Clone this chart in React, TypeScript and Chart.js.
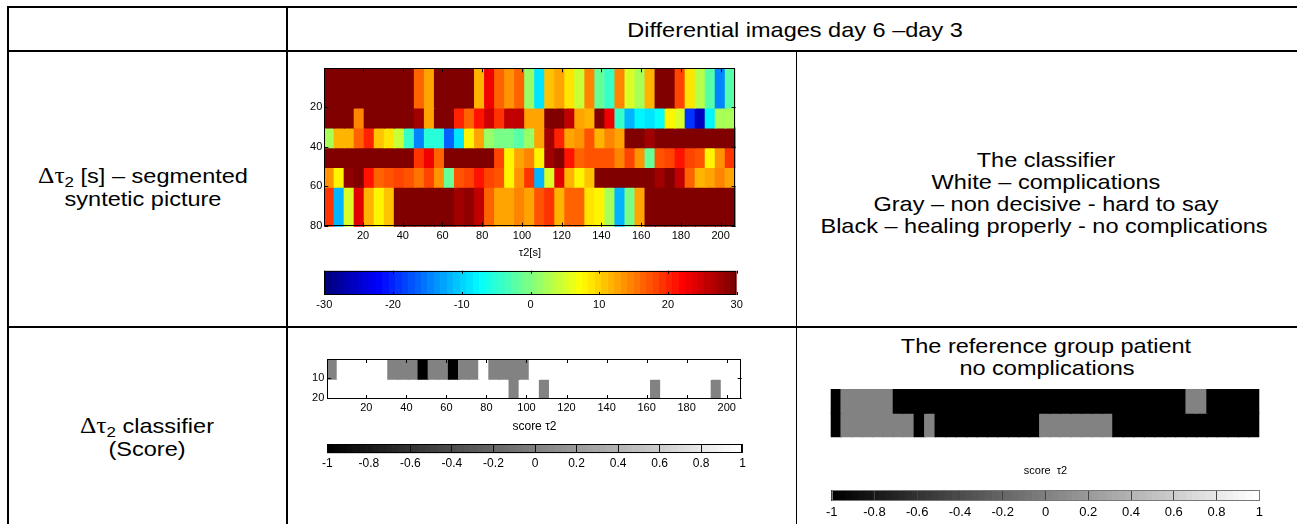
import React, { useEffect, useRef } from "react";
import { Chart, registerables } from "chart.js";

Chart.register(...registerables);

// ---------------- data ----------------
// Δτ2 segmented synthetic picture (jet colour scale, -30 .. 30), 6 row bands × 41 columns
const TAU_X_RANGE = [0.5, 207.5];
const TAU_X_TICKS = [20, 40, 60, 80, 100, 120, 140, 160, 180, 200];
const TAU_Y_RANGE = [0.5, 80.5];
const TAU_Y_TICKS = [20, 40, 60, 80];
const TAU_ROW_EDGES = [0.5, 20.5, 30.5, 40.5, 50.5, 60.5, 80.5];
const TAU_ROW_1 = [30, 30, 30, 30, 30, 30, 30, 30, 30, 16.6, 12.8, 30, 30, 30, 30, 11.3, 22.5, 16, 13.7, 16.6, 1.3, -8.8, 10.7, 13.1, 9, 4.3, 14.3, -1.6, -4.5, 14.9, 5.4, 1.9, 11.3, 30, 30, 18.4, 9, 3.2, -2.8, -14.9, -2.8];
const TAU_ROW_2 = [30, 30, 30, 14.9, 30, 30, 30, 30, 30, 28.1, 12.5, 30, 30, 20.1, 16.6, 21.3, 25.2, 19, 25.8, 25.8, 13.1, 13.1, 30, 30, 25.8, 13.1, 11.9, 30, 22.5, -4, -11.3, -8.4, -9, -7.5, 7.5, 5.4, -19, -25.8, -8.4, 1.9, 1.9];
const TAU_ROW_3 = [1.9, 11.3, 11.3, 16.6, 20.1, 10.7, 9, 4.3, -4, -14.3, -5.2, -5.2, -16.6, -9, 7.5, 13.1, 1.3, -0.4, -0.4, -2.2, 1.3, 13.1, 27.5, 20.1, 13.1, 13.7, 17.2, 11.9, 14.3, 12.5, 30, 30, 28.1, 30, 30, 30, 30, 30, 30, 30, 30];
const TAU_ROW_4 = [30, 30, 30, 30, 30, 30, 30, 30, 30, 19.6, 22.5, 16.6, 30, 30, 30, 30, 30, 18.4, 7.5, 13.1, 14.3, 7.8, 28.1, 30, 21.3, 16, 17.2, 17.8, 17.8, 14.9, 18.4, 13.7, -1.6, 17.2, 18.4, 21.3, 18.4, 17.2, 8.4, 13.7, 19];
const TAU_ROW_5 = [13.7, 7.5, 28.8, 30, 20.7, 16, 17.2, 18.4, 17.2, 15.4, 18.4, 13.7, -1.6, 17.2, 18.4, 21.3, 18.4, 17.2, 7.5, 13.7, 19, -11.9, 5.4, 24, 11.3, 7.5, 10.7, 30, 30, 30, 30, 30, 30, 28.1, 29.4, 25.8, 16, 11.9, 13.1, 14.9, 13.1];
const TAU_ROW_6 = [19.6, -11.3, 5.4, 24, 11.3, 7.8, 10.7, 30, 30, 30, 30, 30, 30, 28.1, 28.8, 25.8, 16.6, 12.5, 13.1, 14.9, 12.5, 17.2, 19, 11.9, 16.6, 16.6, 9, 7.5, 2.7, -11.3, -0.5, 13.1, 29.4, 30, 30, 30, 30, 30, 30, 30, 30];
const JET_RANGE = [-30, 30];
const JET_TICKS = [-30, -20, -10, 0, 10, 20, 30];
const JET_TICK_LABELS = ["-30", "-20", "-10", "0", "10", "20", "30"];

// Δτ2 classifier score (-1 black, 0 gray, 1 white)
const SCORE_Y_RANGE = [0.5, 20.5];
const SCORE_Y_TICKS = [10, 20];
const SCORE_ROW_EDGES = [0.5, 10.5, 20.5];
const SCORE_ROW_1 = [0, 1, 1, 1, 1, 1, 0, 0, 0, -1, 0, 0, -1, 0, 0, 1, 0, 0, 0, 0, 1, 1, 1, 1, 1, 1, 1, 1, 1, 1, 1, 1, 1, 1, 1, 1, 1, 1, 1, 1, 1];
const SCORE_ROW_2 = [1, 1, 1, 1, 1, 1, 1, 1, 1, 1, 1, 1, 1, 1, 1, 1, 1, 1, 0, 1, 1, 0, 1, 1, 1, 1, 1, 1, 1, 1, 1, 1, 0, 1, 1, 1, 1, 1, 0, 1, 1];

// reference group patient – no complications
const REF_ROW_1 = [-1, 0, 0, 0, 0, 0, -1, -1, -1, -1, -1, -1, -1, -1, -1, -1, -1, -1, -1, -1, -1, -1, -1, -1, -1, -1, -1, -1, -1, -1, -1, -1, -1, -1, 0, 0, -1, -1, -1, -1, -1];
const REF_ROW_2 = [-1, 0, 0, 0, 0, 0, 0, 0, -1, 0, -1, -1, -1, -1, -1, -1, -1, -1, -1, -1, 0, 0, 0, 0, 0, 0, 0, -1, -1, -1, -1, -1, -1, -1, -1, -1, -1, -1, -1, -1, -1];

const GRAY_RANGE = [-1, 1];
const GRAY_TICKS = [-1, -0.8, -0.6, -0.4, -0.2, 0, 0.2, 0.4, 0.6, 0.8, 1];
const GRAY_TICK_LABELS = ["-1", "-0.8", "-0.6", "-0.4", "-0.2", "0", "0.2", "0.4", "0.6", "0.8", "1"];

// ---------------- colour maps ----------------
const LEVELS = 64;
const FONT = 'Arial, "Liberation Sans", Helvetica, sans-serif';

function levelOf(v: number, range: number[]) {
  const t = (v - range[0]) / (range[1] - range[0]);
  return Math.min(LEVELS - 1, Math.max(0, Math.floor(t * LEVELS))) / (LEVELS - 1);
}
function jetAt(t: number) {
  const c = (x: number) => Math.round(255 * Math.min(1, Math.max(0, x)));
  return `rgb(${c(1.5 - Math.abs(4 * t - 3))},${c(1.5 - Math.abs(4 * t - 2))},${c(1.5 - Math.abs(4 * t - 1))})`;
}
function grayAt(t: number) {
  const g = Math.round(255 * t);
  return `rgb(${g},${g},${g})`;
}
const jetOf = (v: number) => jetAt(levelOf(v, JET_RANGE));
const grayOf = (v: number) => grayAt(levelOf(v, GRAY_RANGE));

function stepGradient(chart: any, range: number[], colorAt: (t: number) => string) {
  const area = chart.chartArea;
  if (!area) return "transparent";
  const xs = chart.scales.x;
  const x0 = xs.getPixelForValue(range[0]);
  const x1 = xs.getPixelForValue(range[1]);
  const g = chart.ctx.createLinearGradient(x0, 0, x1, 0);
  for (let i = 0; i < LEVELS; i++) {
    const col = colorAt(i / (LEVELS - 1));
    g.addColorStop(i / LEVELS, col);
    g.addColorStop((i + 1) / LEVELS, col);
  }
  return g;
}

// MATLAB-like axes box with inward tick marks
const matlabBox = {
  id: "matlabBox",
  afterDraw(chart: any, _args: any, opts: any) {
    if (!opts || !opts.show) return;
    const { ctx, chartArea: a } = chart;
    ctx.save();
    ctx.lineWidth = 1;
    ctx.strokeStyle = opts.tickColor || "#000";
    ctx.beginPath();
    const len = opts.tickLength || 4;
    const xs = chart.scales.x;
    const ys = chart.scales.y;
    if (opts.xTicks) {
      for (const t of xs.ticks) {
        const p = Math.round(xs.getPixelForValue(t.value)) + 0.5;
        ctx.moveTo(p, a.top);
        ctx.lineTo(p, a.top + len);
        ctx.moveTo(p, a.bottom);
        ctx.lineTo(p, a.bottom - len);
      }
    }
    if (opts.yTicks) {
      for (const t of ys.ticks) {
        const p = Math.round(ys.getPixelForValue(t.value)) + 0.5;
        ctx.moveTo(a.left, p);
        ctx.lineTo(a.left + len, p);
        ctx.moveTo(a.right, p);
        ctx.lineTo(a.right - len, p);
      }
    }
    ctx.stroke();
    if (opts.border) {
      ctx.strokeStyle = opts.border;
      ctx.strokeRect(
        Math.round(a.left) + 0.5,
        Math.round(a.top) + 0.5,
        Math.round(a.right - a.left) - 1,
        Math.round(a.bottom - a.top) - 1
      );
    }
    ctx.restore();
  },
};

function colCenter(c: number, n: number, range: number[]) {
  return range[0] + ((c + 0.5) * (range[1] - range[0])) / n;
}

function heatmapConfig(p: any) {
  const datasets = p.rows.map((row: number[], r: number) => ({
    data: row.map((_v: number, c: number) => ({
      x: colCenter(c, row.length, p.xRange),
      y: [p.rowEdges[r], p.rowEdges[r + 1]],
    })),
    backgroundColor: row.map(p.colorOf),
    grouped: false,
    barPercentage: 1,
    categoryPercentage: 1,
    borderWidth: 0,
    inflateAmount: 0.7,
  }));
  return {
    type: "bar",
    data: { datasets },
    options: {
      animation: false,
      responsive: false,
      events: [],
      layout: { padding: p.padding },
      plugins: {
        legend: { display: false },
        tooltip: { enabled: false },
        matlabBox: p.box,
      },
      scales: {
        x: {
          type: "linear",
          display: p.showAxes,
          min: p.xRange[0],
          max: p.xRange[1],
          offset: false,
          grid: { display: false, drawTicks: false },
          border: { display: false },
          ticks: {
            autoSkip: false,
            maxRotation: 0,
            color: "#000",
            padding: p.xTickPadding,
            font: { family: FONT, size: 11 },
          },
          title: {
            display: !!p.xTitle,
            text: p.xTitle,
            color: "#000",
            font: { family: FONT, size: p.titleSize },
            padding: { top: 0, bottom: p.titlePadBottom },
          },
          afterBuildTicks: (s: any) => {
            s.ticks = (p.xTicks || []).map((v: number) => ({ value: v }));
          },
          afterFit: (s: any) => {
            s.height = p.xAxisHeight;
          },
        },
        y: {
          type: "linear",
          display: p.showAxes,
          reverse: true,
          min: p.yRange[0],
          max: p.yRange[1],
          grid: { display: false, drawTicks: false },
          border: { display: false },
          ticks: {
            autoSkip: false,
            color: "#000",
            padding: p.yTickPadding,
            font: { family: FONT, size: 11 },
          },
          afterBuildTicks: (s: any) => {
            s.ticks = (p.yTicks || []).map((v: number) => ({ value: v }));
          },
          afterFit: (s: any) => {
            s.width = p.yAxisWidth;
          },
        },
      },
    },
    plugins: [matlabBox],
  };
}

function colorbarConfig(p: any) {
  return {
    type: "bar",
    data: {
      labels: ["colorbar"],
      datasets: [
        {
          data: [p.range],
          backgroundColor: (ctx: any) => stepGradient(ctx.chart, p.range, p.colorAt),
          barPercentage: 1,
          categoryPercentage: 1,
          borderWidth: 0,
        },
      ],
    },
    options: {
      indexAxis: "y",
      animation: false,
      responsive: false,
      events: [],
      layout: { padding: p.padding },
      plugins: {
        legend: { display: false },
        tooltip: { enabled: false },
        title: p.title
          ? {
              display: true,
              text: p.title,
              color: "#000",
              font: { family: FONT, size: 11, weight: "normal" },
              padding: p.titlePadding,
            }
          : { display: false },
        matlabBox: p.box,
      },
      scales: {
        x: {
          type: "linear",
          min: p.range[0],
          max: p.range[1],
          offset: false,
          grid: {
            display: !!p.gridColor,
            color: p.gridColor,
            lineWidth: 1,
            drawTicks: false,
            drawOnChartArea: true,
            z: 1,
          },
          border: { display: false },
          ticks: {
            autoSkip: false,
            maxRotation: 0,
            color: "#000",
            padding: p.tickPadding,
            font: { family: FONT, size: p.tickSize },
            callback: (v: number) => {
              const i = p.ticks.indexOf(v);
              return i >= 0 ? p.tickLabels[i] : "";
            },
          },
          afterBuildTicks: (s: any) => {
            s.ticks = p.ticks.map((v: number) => ({ value: v }));
          },
          afterFit: (s: any) => {
            s.height = p.xAxisHeight;
          },
        },
        y: { display: false },
      },
    },
    plugins: [matlabBox],
  };
}

// ---------------- components ----------------
function ChartBox({ box, make }: { box: number[]; make: () => any }) {
  const ref = useRef<HTMLCanvasElement | null>(null);
  useEffect(() => {
    const chart = new Chart(ref.current as HTMLCanvasElement, make());
    return () => chart.destroy();
  }, []);
  const [left, top, width, height] = box;
  return (
    <canvas
      ref={ref}
      width={width}
      height={height}
      style={{ position: "absolute", left, top, width, height }}
    />
  );
}

function TextLine({ x, y, children, size = 21, sx = 1.12 }: any) {
  return (
    <div
      style={{
        position: "absolute",
        left: x,
        top: y,
        transform: `translate(-50%, -50%) scaleX(${sx})`,
        whiteSpace: "nowrap",
        fontFamily: FONT,
        fontSize: size,
        lineHeight: 1,
        color: "#000",
      }}
    >
      {children}
    </div>
  );
}

const Greek = ({ children }: any) => (
  <span style={{ fontFamily: '"Liberation Serif", "Times New Roman", serif', fontSize: "1.08em" }}>{children}</span>
);
const Sub = ({ children }: any) => (
  <span style={{ fontSize: "0.72em", position: "relative", top: "0.28em" }}>{children}</span>
);

function Line({ l, t, w, h }: any) {
  return <div style={{ position: "absolute", left: l, top: t, width: w, height: h, background: "#000" }} />;
}

export default function App() {
  return (
    <div
      style={{
        position: "absolute",
        left: 0,
        top: 0,
        width: 1297,
        height: 524,
        overflow: "hidden",
        background: "#fff",
      }}
    >
      {/* table grid */}
      <Line l={7} t={6} w={1290} h={2} />
      <Line l={7} t={50} w={1290} h={2} />
      <Line l={7} t={326} w={1290} h={2} />
      <Line l={7} t={6} w={2} h={518} />
      <Line l={286} t={6} w={2} h={518} />
      <Line l={796} t={51} w={1} h={473} />

      {/* texts */}
      <TextLine x={795} y={29}>Differential images day 6 –day 3</TextLine>

      <TextLine x={143} y={176}>
        <Greek>Δτ</Greek>
        <Sub>2</Sub> [s] – segmented
      </TextLine>
      <TextLine x={143} y={198}>syntetic picture</TextLine>

      <TextLine x={147} y={426}>
        <Greek>Δτ</Greek>
        <Sub>2</Sub> classifier
      </TextLine>
      <TextLine x={147} y={448}>(Score)</TextLine>

      <TextLine x={1046} y={159}>The classifier</TextLine>
      <TextLine x={1046} y={181}>White – complications</TextLine>
      <TextLine x={1046} y={203}>Gray – non decisive - hard to say</TextLine>
      <TextLine x={1044} y={225}>Black – healing properly - no complications</TextLine>

      <TextLine x={1046} y={345}>The reference group patient</TextLine>
      <TextLine x={1047} y={367}>no complications</TextLine>

      {/* Δτ2 segmented picture */}
      <ChartBox
        box={[290, 58, 460, 210]}
        make={() =>
          heatmapConfig({
            rows: [TAU_ROW_1, TAU_ROW_2, TAU_ROW_3, TAU_ROW_4, TAU_ROW_5, TAU_ROW_6],
            rowEdges: TAU_ROW_EDGES,
            xRange: TAU_X_RANGE,
            yRange: TAU_Y_RANGE,
            xTicks: TAU_X_TICKS,
            yTicks: TAU_Y_TICKS,
            colorOf: jetOf,
            showAxes: true,
            padding: { left: 0, right: 14.5, top: 10.3, bottom: 0 },
            yAxisWidth: 34.3,
            xAxisHeight: 41.3,
            xTickPadding: 2.5,
            yTickPadding: 2,
            xTitle: "τ2[s]",
            titleSize: 11,
            titlePadBottom: 8.4,
            box: { show: true, xTicks: true, yTicks: true, tickLength: 4, border: "#000" },
          })
        }
      />
      <ChartBox
        box={[290, 262, 460, 58]}
        make={() =>
          colorbarConfig({
            range: JET_RANGE,
            ticks: JET_TICKS,
            tickLabels: JET_TICK_LABELS,
            colorAt: jetAt,
            padding: { left: 34.3, right: 13.3, top: 8.7, bottom: 0 },
            xAxisHeight: 25,
            tickPadding: 3.4,
            tickSize: 11,
            box: { show: true, xTicks: true, yTicks: false, tickLength: 3, border: "#000" },
          })
        }
      />

      {/* Δτ2 classifier score */}
      <ChartBox
        box={[290, 345, 465, 90]}
        make={() =>
          heatmapConfig({
            rows: [SCORE_ROW_1, SCORE_ROW_2],
            rowEdges: SCORE_ROW_EDGES,
            xRange: TAU_X_RANGE,
            yRange: SCORE_Y_RANGE,
            xTicks: TAU_X_TICKS,
            yTicks: SCORE_Y_TICKS,
            colorOf: grayOf,
            showAxes: true,
            padding: { left: 0, right: 13.3, top: 14, bottom: 0 },
            yAxisWidth: 37.3,
            xAxisHeight: 36,
            xTickPadding: 2.7,
            yTickPadding: 3,
            xTitle: "score τ2",
            titleSize: 12,
            titlePadBottom: 1.1,
            box: { show: true, xTicks: true, yTicks: true, tickLength: 4, border: "#000" },
          })
        }
      />
      <ChartBox
        box={[290, 436, 465, 40]}
        make={() =>
          colorbarConfig({
            range: GRAY_RANGE,
            ticks: GRAY_TICKS,
            tickLabels: GRAY_TICK_LABELS,
            colorAt: grayAt,
            gridColor: "#111",
            padding: { left: 37.3, right: 12.3, top: 8, bottom: 0 },
            xAxisHeight: 22.7,
            tickPadding: 3.5,
            tickSize: 12,
            box: { show: true, xTicks: false, yTicks: false, border: "#000" },
          })
        }
      />

      {/* reference group patient */}
      <ChartBox
        box={[820, 380, 450, 66]}
        make={() =>
          heatmapConfig({
            rows: [REF_ROW_1, REF_ROW_2],
            rowEdges: SCORE_ROW_EDGES,
            xRange: TAU_X_RANGE,
            yRange: SCORE_Y_RANGE,
            xTicks: [],
            yTicks: [],
            colorOf: grayOf,
            showAxes: false,
            padding: { left: 10.7, right: 10.7, top: 9, bottom: 8.7 },
            yAxisWidth: 0,
            xAxisHeight: 0,
            box: { show: false },
          })
        }
      />
      <ChartBox
        box={[800, 455, 490, 69]}
        make={() =>
          colorbarConfig({
            range: GRAY_RANGE,
            ticks: GRAY_TICKS,
            tickLabels: GRAY_TICK_LABELS,
            colorAt: grayAt,
            gridColor: "#444",
            title: "score  τ2",
            titlePadding: { top: 9.4, bottom: 12.4 },
            padding: { left: 31.7, right: 30.7, top: 0, bottom: 0 },
            xAxisHeight: 23,
            tickPadding: 4,
            tickSize: 13,
            box: { show: true, xTicks: false, yTicks: false, border: "#777" },
          })
        }
      />
    </div>
  );
}
